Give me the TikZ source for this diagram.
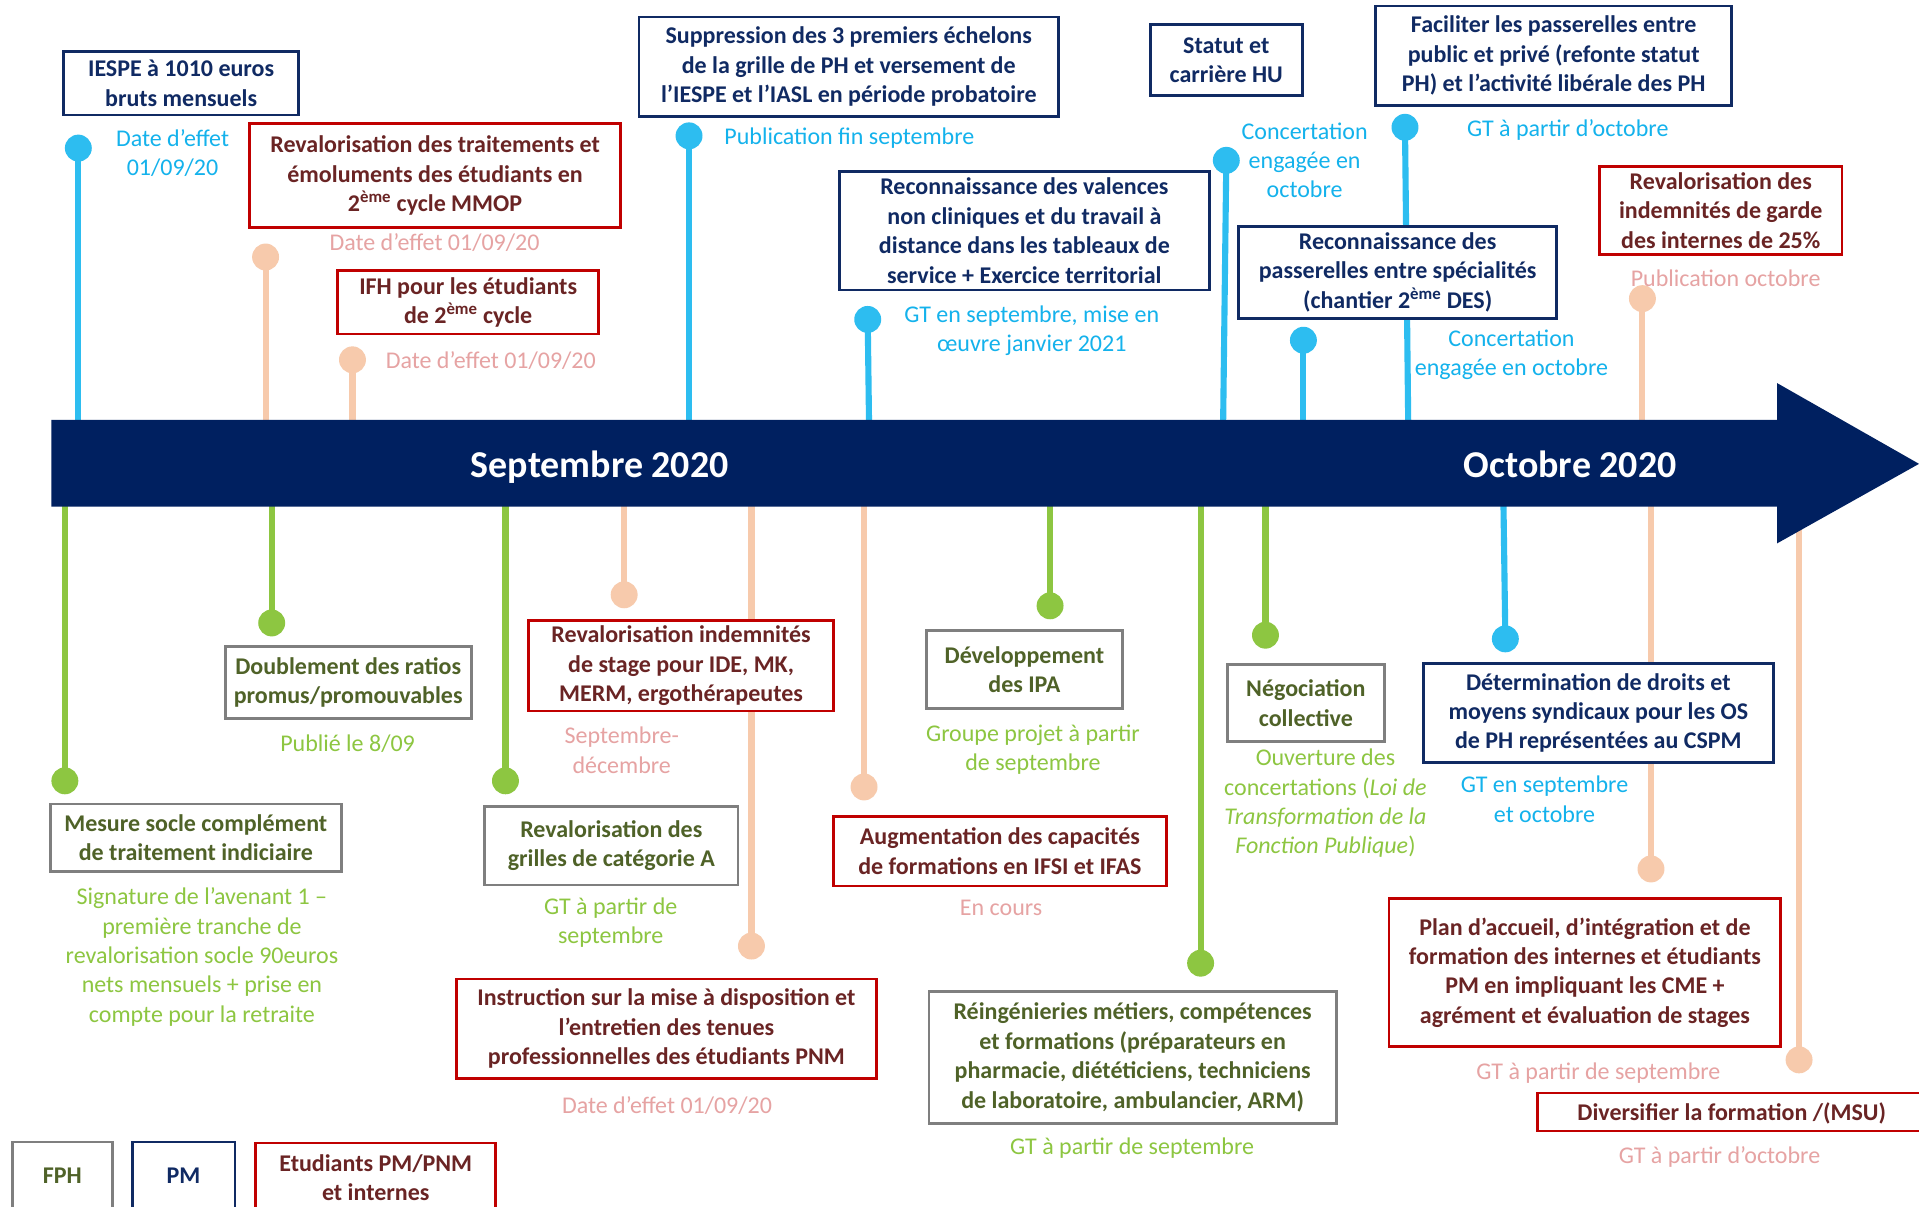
\documentclass[tikz,border=0pt]{standalone}
\usepackage{fontspec}
\setmainfont{Carlito}
\definecolor{barnavy}{HTML}{002060}
\definecolor{pmdark}{HTML}{102A63}
\definecolor{pmline}{HTML}{2DBDF0}
\definecolor{pmsubc}{HTML}{14B2EC}
\definecolor{fphgray}{HTML}{7F7F7F}
\definecolor{fphtext}{HTML}{4F6228}
\definecolor{fphline}{HTML}{8DC641}
\definecolor{fphsubc}{HTML}{8DC641}
\definecolor{etred}{HTML}{C00000}
\definecolor{ettext}{HTML}{6A2424}
\definecolor{etline}{HTML}{F7CAAC}
\definecolor{etsubc}{HTML}{E6A3A3}
\begin{document}
\begin{tikzpicture}[x=1pt,y=-1pt,
  box/.style={line width=2.2pt, fill=white, align=center, inner sep=0pt, font=\bfseries\fontsize{19.6}{24}\selectfont},
  pmbox/.style={box, draw=pmdark, text=pmdark},
  fphbox/.style={box, draw=fphgray, text=fphtext},
  etbox/.style={box, draw=etred, text=ettext},
  sub/.style={align=center, inner sep=0pt, font=\fontsize{19.6}{24}\selectfont},
  pmsub/.style={sub, text=pmsubc},
  fphsub/.style={sub, text=fphsubc},
  etsub/.style={sub, text=etsubc},
  dot/.style={circle, inner sep=0pt, minimum size=22pt},
  pmdot/.style={dot, fill=pmline},
  fphdot/.style={dot, fill=fphline},
  etdot/.style={dot, fill=etline},
  stem/.style={line width=5pt},
  pmstem/.style={stem, draw=pmline},
  fphstem/.style={stem, draw=fphline},
  etstem/.style={stem, draw=etline},
  month/.style={text=white, font=\bfseries\fontsize{31}{36}\selectfont, inner sep=0pt, anchor=base}
]
\clip (0,0) rectangle (1568,986);
\fill[white] (0,0) rectangle (1568,986);
\coordinate (barmid) at (0,379);

% dots
\node[pmdot] (d1) at (64,121) {};
\node[etdot] (d2) at (217,210) {};
\node[etdot] (d3) at (288,294) {};
\node[pmdot] (d4) at (563,111) {};
\node[pmdot] (d5) at (709,261) {};
\node[pmdot] (d6) at (1002,131) {};
\node[pmdot] (d7) at (1148,104) {};
\node[pmdot] (d8) at (1065,278) {};
\node[etdot] (d9) at (1342,244) {};
\node[fphdot] (d10) at (53,638) {};
\node[fphdot] (d11) at (222,509) {};
\node[fphdot] (d12) at (413,638) {};
\node[etdot] (d13) at (510,486) {};
\node[etdot] (d14) at (614,773) {};
\node[etdot] (d15) at (706,643) {};
\node[fphdot] (d16) at (858,495) {};
\node[fphdot] (d17) at (981,787) {};
\node[fphdot] (d18) at (1034,519) {};
\node[pmdot] (d19) at (1230,522) {};
\node[etdot] (d20) at (1349,710) {};
\node[etdot] (d21) at (1470,866) {};

% stems
\foreach \d in {d1,d4,d8}{\draw[pmstem] (\d.center) -- (\d.center |- barmid);}
\draw[pmstem] (d5.center) -- ([xshift=1.5pt]d5.center |- barmid);
\draw[pmstem] (d6.center) -- ([xshift=-3pt]d6.center |- barmid);
\draw[pmstem] (d7.center) -- ([xshift=3pt]d7.center |- barmid);
\draw[pmstem] (d19.center) -- ([xshift=-2pt]d19.center |- barmid);
\foreach \d in {d2,d3,d9,d13,d14,d15,d20,d21}{\draw[etstem] (\d.center) -- (\d.center |- barmid);}
\foreach \d in {d10,d11,d12,d16,d17,d18}{\draw[fphstem] (\d.center) -- (\d.center |- barmid);}

% timeline arrow
\fill[barnavy] (42,343) -- (1452,343) -- (1452,313) -- (1568,379) -- (1452,444) -- (1452,414) -- (42,414) -- cycle;
\node[month] (sep) at (490,390) {Septembre 2020};
\node[month] (oct) at (1283,390) {Octobre 2020};

% top boxes
\node[pmbox, minimum width=192, minimum height=52] (b1) at (148,68) {IESPE à 1010 euros\\bruts mensuels};
\node[pmsub] (s1) at (141,125) {Date d’effet\\01/09/20};

\node[etbox, minimum width=303, minimum height=85] (b2) at (355.5,143.5) {Revalorisation des traitements et\\émoluments des étudiants en\\2\textsuperscript{ème} cycle MMOP};
\node[etsub] (s2) at (355,198) {Date d’effet 01/09/20};

\node[etbox, minimum width=213, minimum height=52] (b3) at (382.5,247) {IFH pour les étudiants\\de 2\textsuperscript{ème} cycle};
\node[etsub] (s3) at (401,295) {Date d’effet 01/09/20};

\node[pmbox, minimum width=343, minimum height=81] (b4) at (693.5,54.5) {Suppression des 3 premiers échelons\\de la grille de PH et versement de\\l’IESPE et l’IASL en période probatoire};
\node[pmsub] (s4) at (694,113) {Publication fin septembre};

\node[pmbox, minimum width=302, minimum height=97] (b5) at (837,188.5) {Reconnaissance des valences\\non cliniques et du travail à\\distance dans les tableaux de\\service + Exercice territorial};
\node[pmsub] (s5) at (843,270) {GT en septembre, mise en\\œuvre janvier 2021};

\node[pmbox, minimum width=124, minimum height=58] (b6) at (1002,49) {Statut et\\carrière HU};
\node[pmsub] (s6) at (1066,131) {Concertation\\engagée en\\octobre};

\node[pmbox, minimum width=291, minimum height=81] (b7) at (1269.5,45.5) {Faciliter les passerelles entre\\public et privé (refonte statut\\PH) et l’activité libérale des PH};
\node[pmsub] (s7) at (1281,106) {GT à partir d’octobre};

\node[pmbox, minimum width=260, minimum height=75] (b8) at (1142,222.5) {Reconnaissance des\\passerelles entre spécialités\\(chantier 2\textsuperscript{ème} DES)};
\node[pmsub] (s8) at (1235,290) {Concertation\\engagée en octobre};

\node[etbox, minimum width=198, minimum height=72] (b9) at (1406,172) {Revalorisation des\\indemnités de garde\\des internes de 25\%};
\node[etsub] (s9) at (1410,227) {Publication octobre};

% bottom boxes
\node[fphbox, minimum width=238, minimum height=55] (b10) at (160,684.5) {Mesure socle complément\\de traitement indiciaire};
\node[fphsub] (s10) at (165,782) {Signature de l’avenant 1 –\\première tranche de\\revalorisation socle 90euros\\nets mensuels + prise en\\compte pour la retraite};

\node[fphbox, minimum width=201, minimum height=59] (b11) at (284.5,557.5) {Doublement des ratios\\promus/promouvables};
\node[fphsub] (s11) at (284,608) {Publié le 8/09};

\node[fphbox, minimum width=207, minimum height=64] (b12) at (499.5,691) {Revalorisation des\\grilles de catégorie A};
\node[fphsub] (s12) at (499,754) {GT à partir de\\septembre};

\node[etbox, minimum width=249, minimum height=74] (b13) at (556.5,544) {Revalorisation indemnités\\de stage pour IDE, MK,\\MERM, ergothérapeutes};
\node[etsub] (s13) at (508,613) {Septembre-\\décembre};

\node[etbox, minimum width=343, minimum height=81] (b14) at (544.5,840.5) {Instruction sur la mise à disposition et\\l’entretien des tenues\\professionnelles des étudiants PNM};
\node[etsub] (s14) at (545,903) {Date d’effet 01/09/20};

\node[etbox, minimum width=272, minimum height=57] (b15) at (817,695.5) {Augmentation des capacités\\de formations en IFSI et IFAS};
\node[etsub] (s15) at (818,742) {En cours};

\node[fphbox, minimum width=160, minimum height=64] (b16) at (837,547) {Développement\\des IPA};
\node[fphsub] (s16) at (844,612.5) {Groupe projet à partir\\de septembre};

\node[fphbox, minimum width=333, minimum height=108] (b17) at (925.5,864) {Réingénieries métiers, compétences\\et formations (préparateurs en\\pharmacie, diététiciens, techniciens\\de laboratoire, ambulancier, ARM)};
\node[fphsub] (s17) at (925,938) {GT à partir de septembre};

\node[fphbox, minimum width=128, minimum height=63] (b18) at (1067,574.5) {Négociation\\collective};
\node[fphsub] (s18) at (1083,656.5) {Ouverture des\\concertations (\textit{Loi de}\\\textit{Transformation de la}\\\textit{Fonction Publique})};

\node[pmbox, minimum width=286, minimum height=81] (b19) at (1306,582.5) {Détermination de droits et\\moyens syndicaux pour les OS\\de PH représentées au CSPM};
\node[pmsub] (s19) at (1262,653) {GT en septembre\\et octobre};

\node[etbox, minimum width=320, minimum height=121] (b20) at (1295,794.5) {Plan d’accueil, d’intégration et de\\formation des internes et étudiants\\PM en impliquant les CME +\\agrément et évaluation de stages};
\node[etsub] (s20) at (1306,877) {GT à partir de septembre};

\node[etbox, minimum width=330, minimum height=31] (b21) at (1421,908.5) {};
\node[etbox, draw=none, fill=none] (t21) at (1415,909.5) {Diversifier la formation /(MSU)};
\node[etsub] (s21) at (1405,945) {GT à partir d’octobre};

% legend
\node[fphbox, minimum width=82, minimum height=56] (l1) at (51,961) {FPH};
\node[pmbox, minimum width=84, minimum height=56] (l2) at (150,961) {PM};
\node[etbox, minimum width=196, minimum height=56] (l3) at (307,962) {Etudiants PM/PNM\\et internes};
\end{tikzpicture}
\end{document}
